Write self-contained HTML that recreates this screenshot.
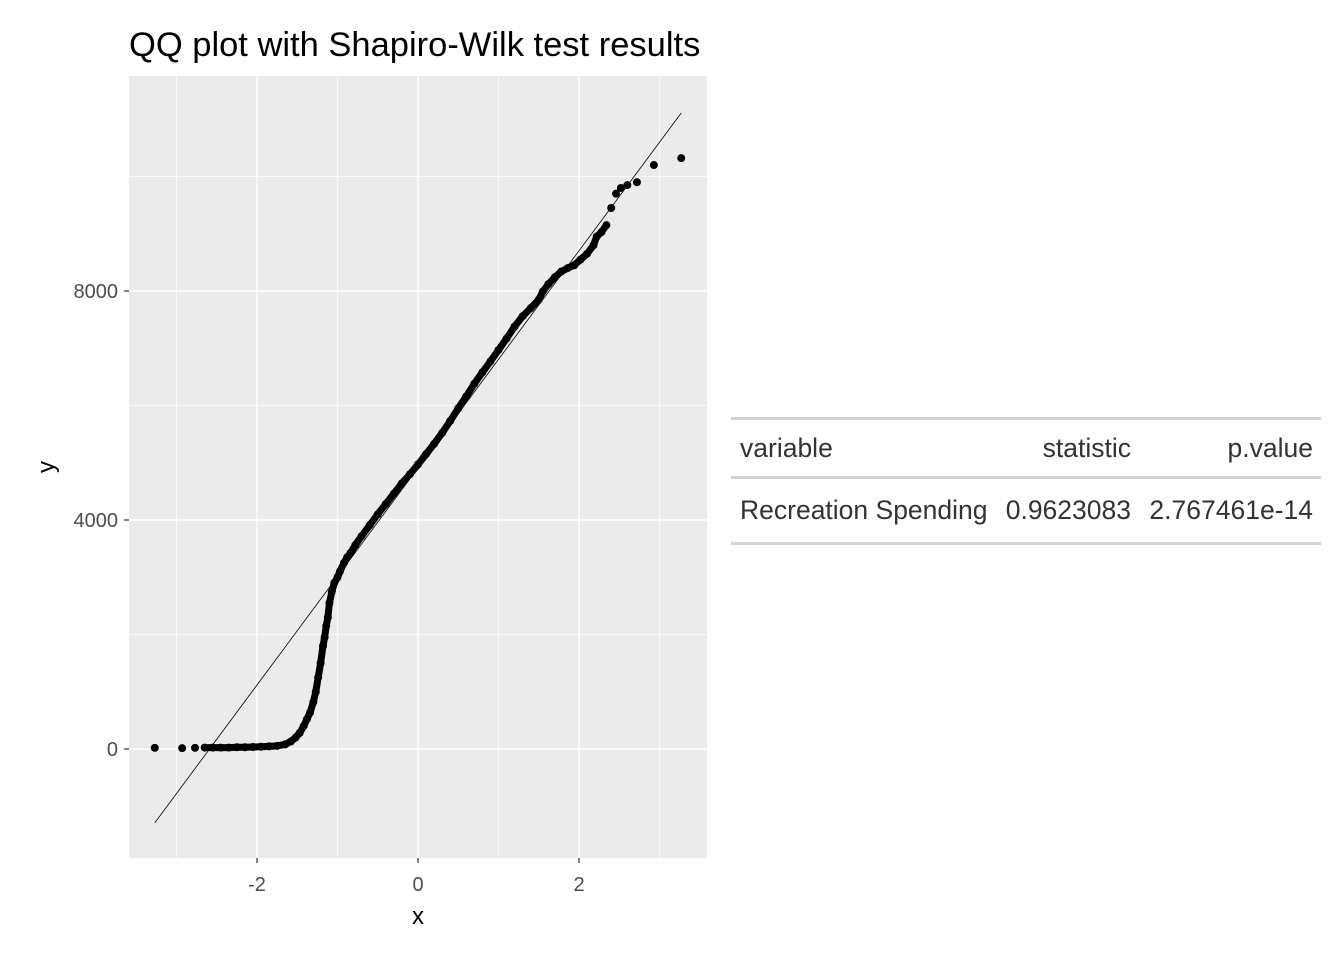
<!DOCTYPE html>
<html><head><meta charset="utf-8"><style>
body{margin:0;background:#fff;width:1344px;height:960px;overflow:hidden;font-family:"Liberation Sans",sans-serif}
svg{position:absolute;left:0;top:0}
.tbl{position:absolute;left:731px;top:417px;width:590px;font-size:26.5px;color:#333;font-family:"Liberation Sans",sans-serif;white-space:nowrap}
.tbl .row{display:flex;align-items:center}
.tbl .c1{width:250px;padding-left:9px}
.tbl .c2{width:141px;text-align:right}
.tbl .c3{flex:1;text-align:right;padding-right:8px}
</style></head><body>
<svg id="chart" width="1344" height="960">
<text x="129" y="56" font-size="34.5" fill="#000">QQ plot with Shapiro-Wilk test results</text>
</svg>
<div class="tbl">
<div style="border-top:3px solid #d3d3d3"></div>
<div class="row" style="height:56px;border-bottom:3px solid #d3d3d3"><div class="c1">variable</div><div class="c2">statistic</div><div class="c3">p.value</div></div>
<div class="row" style="height:63px;border-bottom:3px solid #d3d3d3"><div class="c1">Recreation Spending</div><div class="c2">0.9623083</div><div class="c3">2.767461e-14</div></div>
</div>
<script>
const xTicks=[-2,0,2];
const xMinor=[-3,-1,1,3];
const yTicks=[0,4000,8000];
const yMinor=[2000,6000,10000];
const qx=[-3.27,-2.93,-2.77,-2.65,-2.55,-2.45,-2.35,-2.25,-2.15,-2.05,-1.95,-1.85,-1.75,-1.65,-1.58,-1.52,-1.47,-1.42,-1.38,-1.34,-1.30,-1.27,-1.24,-1.21,-1.18,-1.16,-1.14,-1.12,-1.10,-1.07,-1.04,-1.00,-0.97,-0.92,-0.88,-0.84,-0.78,-0.70,-0.60,-0.50,-0.40,-0.30,-0.20,-0.10,0.00,0.10,0.20,0.30,0.40,0.50,0.60,0.70,0.80,0.90,1.00,1.10,1.20,1.30,1.40,1.50,1.55,1.62,1.70,1.78,1.86,1.94,2.02,2.10,2.18,2.22,2.28,2.34,2.40,2.46,2.52,2.60,2.72,2.93,3.27];
const qy=[20,15,20,25,25,25,25,30,30,35,40,45,55,80,130,200,280,400,520,640,820,1000,1250,1500,1800,1950,2150,2300,2550,2750,2900,3000,3100,3250,3350,3420,3560,3720,3910,4100,4280,4460,4640,4800,4970,5150,5330,5520,5730,5950,6160,6380,6580,6770,6970,7170,7380,7560,7700,7850,7990,8120,8240,8340,8400,8450,8550,8650,8800,8950,9030,9150,9450,9700,9800,9850,9900,10200,10320];
const lineX=[-3.27,3.27];
const lineY=[-1290,11110];
const denseRange=[-2.7,2.36];
const P={l:129,r:707,t:76,b:858};
const sx=v=>418+v*80.5;
const sy=v=>749-v*0.05725;
const svg=document.getElementById('chart');
const NS='http://www.w3.org/2000/svg';
function mk(t,a){const e=document.createElementNS(NS,t);for(const k in a)e.setAttribute(k,a[k]);svg.appendChild(e);return e;}
const bg=mk('rect',{x:P.l,y:P.t,width:P.r-P.l,height:P.b-P.t,fill:'#ebebeb'});


xMinor.forEach(v=>{const e=mk('line',{x1:sx(v),x2:sx(v),y1:P.t,y2:P.b,stroke:'#fff','stroke-width':0.7});

});
yMinor.forEach(v=>{const e=mk('line',{x1:P.l,x2:P.r,y1:sy(v),y2:sy(v),stroke:'#fff','stroke-width':0.7});

});
xTicks.forEach(v=>{const e=mk('line',{x1:sx(v),x2:sx(v),y1:P.t,y2:P.b,stroke:'#fff','stroke-width':1.4});


mk('line',{x1:sx(v),x2:sx(v),y1:P.b,y2:P.b+5,stroke:'#333','stroke-width':1.2});
const t=mk('text',{x:sx(v),y:891,'font-size':20,fill:'#4d4d4d','text-anchor':'middle'});t.textContent=v;

});
yTicks.forEach(v=>{const e=mk('line',{x1:P.l,x2:P.r,y1:sy(v),y2:sy(v),stroke:'#fff','stroke-width':1.4});


mk('line',{x1:P.l-5,x2:P.l,y1:sy(v),y2:sy(v),stroke:'#333','stroke-width':1.2});
const t=mk('text',{x:P.l-11,y:sy(v)+7,'font-size':20,fill:'#4d4d4d','text-anchor':'end'});t.textContent=v;

});
for(let i=1;i<qx.length;i++){
  if(qx[i-1]<denseRange[0]||qx[i]>denseRange[1])continue;
  const s=mk('line',{x1:sx(qx[i-1]),y1:sy(qy[i-1]),x2:sx(qx[i]),y2:sy(qy[i]),stroke:'#000','stroke-width':7,'stroke-linecap':'round'});
  
  
}
qx.forEach((x,i)=>{const c=mk('circle',{cx:sx(x),cy:sy(qy[i]),r:4,fill:'#000'});

});
const ln=mk('line',{x1:sx(lineX[0]),y1:sy(lineY[0]),x2:sx(lineX[1]),y2:sy(lineY[1]),stroke:'#000','stroke-width':0.8});


const xt=mk('text',{x:418,y:924,'font-size':24,fill:'#000','text-anchor':'middle'});xt.textContent='x';


const yt=mk('text',{x:54,y:467,'font-size':24,fill:'#000','text-anchor':'middle',transform:'rotate(-90 54 467)'});yt.textContent='y';


</script>
</body></html>
